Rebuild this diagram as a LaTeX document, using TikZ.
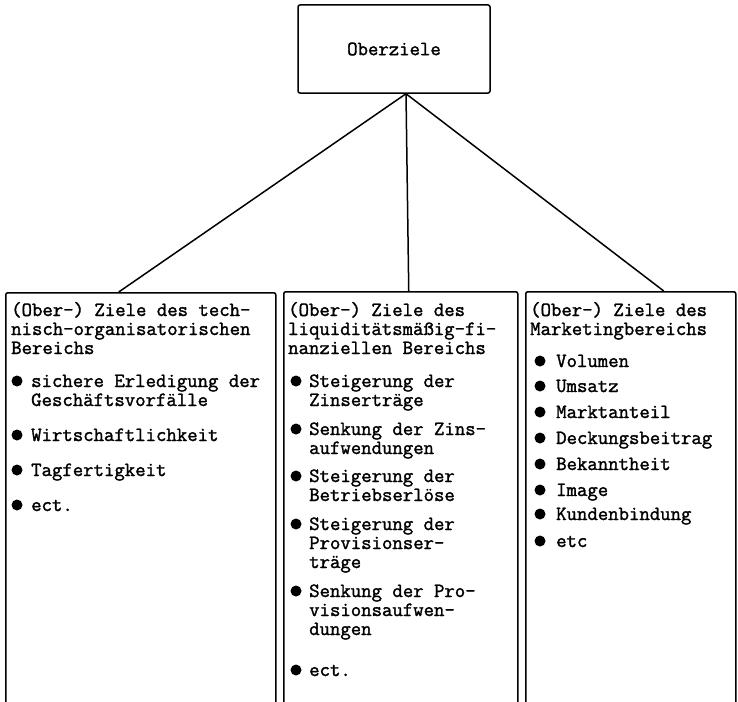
\documentclass[tikz,border=0pt]{standalone}
\usepackage{fontspec}
\newfontfamily\typewriter{Latin Modern Mono}[FakeBold=1.6]
\usetikzlibrary{positioning}

\tikzset{
  box/.style={draw, line width=1.5pt, rounded corners=2pt},
  txt/.style={anchor=base west, inner sep=0pt, font=\typewriter\fontsize{20.2}{19}\selectfont},
  dot/.style={circle, fill, inner sep=0pt, minimum size=11pt},
}

\begin{document}
\begin{tikzpicture}[x=1pt,y=-1pt]
\useasboundingbox (0,0) rectangle (738,701);
\clip (0,0) rectangle (738,701);

% Top box
\node[box, minimum width=192pt, minimum height=88pt] (top) at (394,49) {};
\node[txt, anchor=center] (toptext) at (top) {Oberziele};

% Lower boxes (open at the bottom)
\node[box, anchor=north west, minimum width=270pt, minimum height=460pt] (tech) at (5,292) {};
\node[box, anchor=north west, minimum width=234pt, minimum height=460pt] (fin) at (283,291) {};
\node[box, anchor=north west, minimum width=210pt, minimum height=460pt] (mkt) at (525,291) {};

% Connectors
\draw[line width=1.5pt] ([xshift=12pt]top.south) -- ([xshift=-22pt]tech.north);
\draw[line width=1.5pt] ([xshift=12pt]top.south) -- ([xshift=8pt]fin.north);
\draw[line width=1.5pt] ([xshift=12pt]top.south) -- ([xshift=33pt]mkt.north);

% Technical-organisational goals
\foreach \y/\t in {316/{(Ober-) Ziele des tech-}, 335/{nisch-organisatorischen}, 354/{Bereichs}}
  \node[txt] (techhead-\y) at (11,\y) {\t};
\foreach \y/\t in {387/{sichere Erledigung der}, 406/{Geschäftsvorfälle}, 441/{Wirtschaftlichkeit},
                   476/{Tagfertigkeit}, 511/{ect.}}
  \node[txt] (techitem-\y) at (31,\y) {\t};
\foreach \y in {387,441,476,511}
  \node[dot] (techdot-\y) at (17,\y-6) {};

% Liquidity-financial goals
\foreach \y/\t in {316/{(Ober-) Ziele des}, 335/{liquiditätsmäßig-fi-}, 354/{nanziellen Bereichs}}
  \node[txt] (finhead-\y) at (288,\y) {\t};
\foreach \y/\t in {387/{Steigerung der}, 406/{Zinserträge}, 435/{Senkung der Zins-}, 454/{aufwendungen},
                   482/{Steigerung der}, 501/{Betriebserlöse}, 530/{Steigerung der}, 549/{Provisionser-},
                   568/{träge}, 597/{Senkung der Pro-}, 616/{visionsaufwen-}, 635/{dungen}, 676/{ect.}}
  \node[txt] (finitem-\y) at (309,\y) {\t};
\foreach \y in {387,435,482,530,597,676}
  \node[dot] (findot-\y) at (296,\y-6) {};

% Marketing goals
\foreach \y/\t in {316/{(Ober-) Ziele des}, 335/{Marketingbereichs}}
  \node[txt] (mkthead-\y) at (530,\y) {\t};
\foreach \y/\t in {367/{Volumen}, 392/{Umsatz}, 418/{Marktanteil}, 444/{Deckungsbeitrag},
                   470/{Bekanntheit}, 496/{Image}, 520/{Kundenbindung}, 547/{etc}}
  \node[txt] (mktitem-\y) at (556,\y) {\t};
\foreach \y in {367,392,418,444,470,496,520,547}
  \node[dot] (mktdot-\y) at (540,\y-6) {};
\end{tikzpicture}
\end{document}
